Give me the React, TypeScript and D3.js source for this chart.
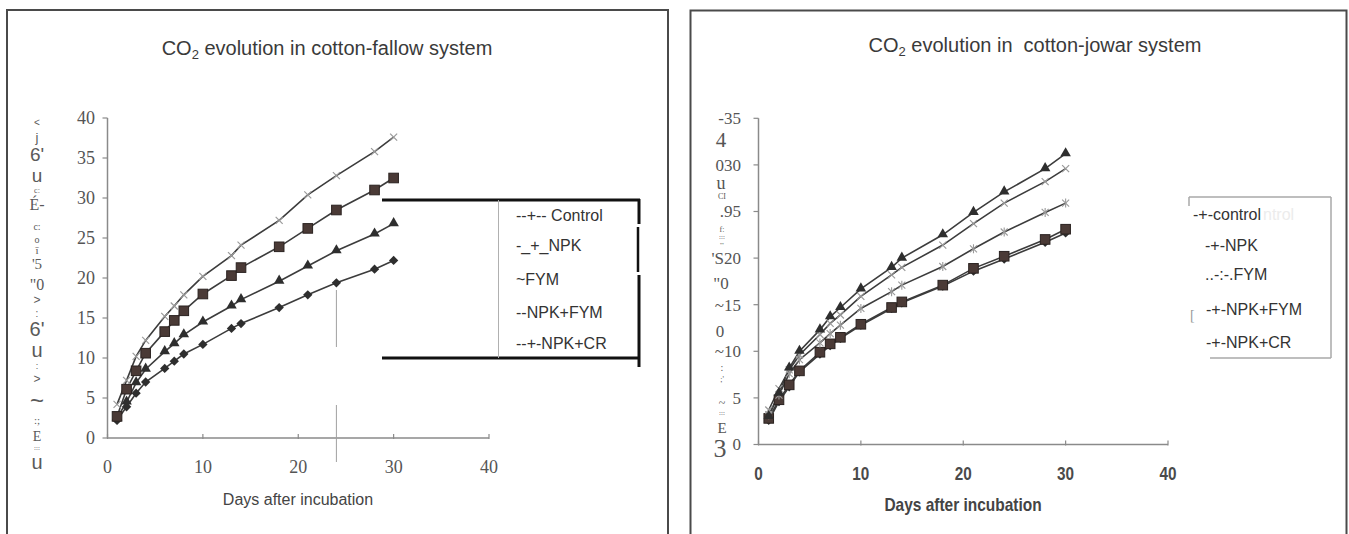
import React from "react";
import * as d3 from "d3";

// ---------- data ----------
const days = [1, 2, 3, 4, 6, 7, 8, 10, 13, 14, 18, 21, 24, 28, 30];

// cotton-fallow system
const fallowCross = [4.2, 7.2, 10.2, 12.2, 15.2, 16.5, 17.9, 20.2, 22.8, 24.1, 27.2, 30.4, 32.8, 35.8, 37.6];
const fallowSquare = [2.7, 6.1, 8.4, 10.6, 13.3, 14.7, 15.9, 18.0, 20.3, 21.3, 23.9, 26.2, 28.5, 31.0, 32.5];
const fallowTriangle = [2.5, 4.5, 6.9, 8.6, 10.8, 11.8, 12.9, 14.5, 16.5, 17.3, 19.6, 21.5, 23.4, 25.5, 26.8];
const fallowDiamond = [2.2, 3.9, 5.6, 7.0, 8.7, 9.6, 10.5, 11.7, 13.7, 14.3, 16.3, 17.9, 19.4, 21.1, 22.2];

// cotton-jowar system
const jowarTriangle = [3.0, 5.5, 8.2, 10.0, 12.3, 13.7, 14.7, 16.7, 19.0, 20.0, 22.5, 24.9, 27.1, 29.6, 31.2];
const jowarCross = [3.7, 6.0, 8.0, 9.6, 11.8, 13.0, 13.9, 15.9, 18.2, 19.0, 21.4, 23.7, 25.9, 28.2, 29.6];
const jowarStar = [3.2, 5.3, 7.6, 9.1, 10.9, 11.9, 12.8, 14.6, 16.4, 17.1, 19.1, 21.0, 22.8, 24.9, 25.9];
const jowarSquare = [2.8, 4.8, 6.4, 7.9, 9.9, 10.8, 11.5, 12.9, 14.7, 15.3, 17.1, 18.9, 20.2, 22.0, 23.1];
const jowarDiamond = [2.6, 4.6, 6.2, 7.8, 9.7, 10.6, 11.4, 12.8, 14.6, 15.2, 17.0, 18.6, 19.9, 21.7, 22.7];

// ticks & labels
const xTicks = [0, 10, 20, 30, 40];
const leftYTicks = [0, 5, 10, 15, 20, 25, 30, 35, 40];
const rightYTicks = [0, 5, 10, 15, 20, 25, 30, 35];
const rightYTickLabels = ["0", "5", "~10", "~15", "'S20", ".95", "030", "-35"];

const leftLegend = ["--+-- Control", "-_+_NPK", "~FYM", "--NPK+FYM", "--+-NPK+CR"];
const rightLegend = ["-+-control", "-+-NPK", "..-:-.FYM", "-+-NPK+FYM", "-+-NPK+CR"];

const leftTitleRest = " evolution in cotton-fallow system";
const rightTitleRest = " evolution in  cotton-jowar system";
const xAxisTitle = "Days after incubation";

// OCR-garbled vertical axis-title fragments
const leftGarble = ["<", "j", "6'", "u", "c:", "É-", "c:", "o", "ī", "'5", "\"0", ">", ":", "6'", "u", ":", ">", "~", ":;", "E", ":::", "u"];
const rightGarble = ["4", "u", "CI", "f:", ":::", "'''", "\"0", "0", ":", ";'", "~", ":::", "E", "3"];

// ---------- layout (not data) ----------
const leftGarbleLayout: [number, number, string][] = [
  [122, 10, "sans"], [137, 13, "sans"], [154, 19, "sans"], [175, 19, "sans"], [190, 8, "serif"],
  [204, 16, "serif"], [226, 10, "serif"], [239, 10, "serif"], [250, 11, "serif"], [264, 15, "serif"],
  [284, 16, "serif"], [300, 12, "sans"], [313, 10, "sans"], [329, 20, "sans"], [350, 20, "sans"],
  [366, 9, "sans"], [379, 12, "sans"], [401, 24, "sans"], [420, 11, "serif"], [436, 14, "serif"],
  [448, 7, "serif"], [462, 20, "sans"],
];
const rightGarbleLayout: [number, number, number][] = [
  [140, 21, 721], [183, 18, 721], [196, 8, 722], [229, 8, 722], [237, 7, 722], [245, 7, 722],
  [283, 17, 721], [331, 17, 720], [367, 10, 722], [379, 8, 722], [403, 12, 722], [413, 7, 722],
  [428, 15, 722], [448, 26, 720],
];

const SANS = "'Liberation Sans', Arial, 'DejaVu Sans', sans-serif";
const SERIF = "'Liberation Serif', 'Times New Roman', 'DejaVu Serif', serif";

type Mk = "square" | "triangle" | "diamond" | "cross" | "star";

function Marker({ kind, cx, cy }: { kind: Mk; cx: number; cy: number }) {
  if (kind === "square") {
    return <rect x={cx - 4.8} y={cy - 4.8} width={9.6} height={9.6} fill="#4a3a36" stroke="#2a2220" strokeWidth={1} />;
  }
  if (kind === "triangle") {
    const p = d3.symbol(d3.symbolTriangle, 48)()!;
    return <path d={p} transform={`translate(${cx},${cy - 0.5})`} fill="#2e2e2e" />;
  }
  if (kind === "diamond") {
    return <rect x={cx - 3.3} y={cy - 3.3} width={6.6} height={6.6} fill="#2e2e2e" transform={`rotate(45 ${cx} ${cy})`} />;
  }
  if (kind === "cross") {
    return (
      <g stroke="#9a9a9a" strokeWidth={1.2}>
        <line x1={cx - 3.5} y1={cy - 3.5} x2={cx + 3.5} y2={cy + 3.5} />
        <line x1={cx - 3.5} y1={cy + 3.5} x2={cx + 3.5} y2={cy - 3.5} />
      </g>
    );
  }
  return (
    <g stroke="#9a9a9a" strokeWidth={1.1}>
      <line x1={cx - 3.5} y1={cy - 3.5} x2={cx + 3.5} y2={cy + 3.5} />
      <line x1={cx - 3.5} y1={cy + 3.5} x2={cx + 3.5} y2={cy - 3.5} />
      <line x1={cx} y1={cy - 4.5} x2={cx} y2={cy + 4.5} />
    </g>
  );
}

function SeriesLines({ series, x, y }: { series: { values: number[]; marker: Mk }[]; x: d3.ScaleLinear<number, number>; y: d3.ScaleLinear<number, number> }) {
  const line = d3
    .line<number>()
    .x((_, i) => x(days[i]))
    .y((v) => y(v));
  return (
    <g>
      {series.map((s, si) => (
        <path key={"l" + si} d={line(s.values)!} fill="none" stroke="#3c3c3c" strokeWidth={1.6} />
      ))}
      {series.map((s, si) => (
        <g key={"m" + si}>
          {s.values.map((v, i) => (
            <Marker key={i} kind={s.marker} cx={x(days[i])} cy={y(v)} />
          ))}
        </g>
      ))}
    </g>
  );
}

export default function App() {
  // left chart scales
  const xL = d3.scaleLinear().domain([0, 40]).range([107.5, 489]);
  const yL = d3.scaleLinear().domain([0, 40]).range([438, 118]);
  // right chart scales
  const xR = d3.scaleLinear().domain([0, 40]).range([758.5, 1168]);
  const yR = d3.scaleLinear().domain([0, 35]).range([444.5, 118.3]);

  const axisColor = "#8a8a8a";

  const leftSeries: { values: number[]; marker: Mk }[] = [
    { values: fallowDiamond, marker: "diamond" },
    { values: fallowTriangle, marker: "triangle" },
    { values: fallowSquare, marker: "square" },
    { values: fallowCross, marker: "cross" },
  ];
  const rightSeries: { values: number[]; marker: Mk }[] = [
    { values: jowarDiamond, marker: "diamond" },
    { values: jowarSquare, marker: "square" },
    { values: jowarStar, marker: "star" },
    { values: jowarCross, marker: "cross" },
    { values: jowarTriangle, marker: "triangle" },
  ];

  const leftLegendY = [215, 245, 279, 312, 343];
  const rightLegendY = [214, 245, 274, 309, 342];
  const rightLegendX = [1193, 1205, 1205, 1206, 1206];

  return (
    <svg width={1349} height={534} style={{ position: "absolute", left: 0, top: 0, background: "#fff" }}>
      <rect x={0} y={0} width={1349} height={534} fill="#fff" />
      {/* panel borders */}
      <rect x={7} y={10} width={661} height={540} fill="none" stroke="#4a4a4a" strokeWidth={2} />
      <rect x={690.5} y={10.5} width={656} height={540} fill="none" stroke="#4a4a4a" strokeWidth={2} />

      {/* ---------- LEFT CHART ---------- */}
      <text x={327} y={55} textAnchor="middle" fontFamily={SANS} fontSize={20} fill="#3a3a3a">
        <tspan>CO</tspan>
        <tspan dy={4} fontSize={13}>2</tspan>
        <tspan dy={-4}>{leftTitleRest}</tspan>
      </text>

      {/* axes */}
      <line x1={xL(0)} y1={yL(0)} x2={xL(40)} y2={yL(0)} stroke={axisColor} strokeWidth={1.5} />
      <line x1={xL(0)} y1={yL(0)} x2={xL(0)} y2={yL(40)} stroke={axisColor} strokeWidth={1.5} />
      {leftYTicks.map((t) => (
        <g key={"ly" + t}>
          <line x1={xL(0) - 5} y1={yL(t)} x2={xL(0)} y2={yL(t)} stroke={axisColor} strokeWidth={1.2} />
          <text x={95} y={yL(t)} dy="0.35em" textAnchor="end" fontFamily={SERIF} fontSize={18} fill="#555">
            {t}
          </text>
        </g>
      ))}
      {xTicks.map((t) => (
        <g key={"lx" + t}>
          <line x1={xL(t)} y1={yL(0) - 4} x2={xL(t)} y2={yL(0) + 1} stroke={axisColor} strokeWidth={1.2} />
          <text x={xL(t)} y={467} dy="0.35em" textAnchor="middle" fontFamily={SERIF} fontSize={18} fill="#555">
            {t}
          </text>
        </g>
      ))}
      <text x={298} y={499} dy="0.35em" textAnchor="middle" fontFamily={SANS} fontSize={16} fill="#444">
        {xAxisTitle}
      </text>

      {/* garbled y title */}
      {leftGarble.map((g, i) => (
        <text
          key={"lg" + i}
          x={37}
          y={leftGarbleLayout[i][0]}
          dy="0.35em"
          textAnchor="middle"
          fontFamily={leftGarbleLayout[i][2] === "sans" ? SANS : SERIF}
          fontSize={leftGarbleLayout[i][1]}
          fill="#5a5a5a"
        >
          {g}
        </text>
      ))}

      {/* gray vertical artifact at day 24 */}
      <line x1={xL(24)} y1={290} x2={xL(24)} y2={347} stroke="#a0a0a0" strokeWidth={1} />
      <line x1={xL(24)} y1={405} x2={xL(24)} y2={462} stroke="#a0a0a0" strokeWidth={1} />

      <SeriesLines series={leftSeries} x={xL} y={yL} />

      {/* left legend */}
      <rect x={499} y={201} width={139} height={156} fill="#fff" />
      <line x1={382} y1={200} x2={640} y2={200} stroke="#111" strokeWidth={3} />
      <line x1={382} y1={358} x2={640} y2={358} stroke="#111" strokeWidth={3} />
      <line x1={639} y1={199} x2={639} y2={224} stroke="#111" strokeWidth={3} />
      <line x1={638} y1={227} x2={638} y2={272} stroke="#111" strokeWidth={2.5} />
      <line x1={639} y1={275} x2={639} y2={367} stroke="#111" strokeWidth={3} />
      <line x1={498.5} y1={200} x2={498.5} y2={358} stroke="#b0b0b0" strokeWidth={1} />
      {leftLegend.map((t, i) => (
        <text key={"ll" + i} x={516} y={leftLegendY[i]} dy="0.35em" fontFamily={SANS} fontSize={16} fill="#333">
          {t}
        </text>
      ))}

      {/* ---------- RIGHT CHART ---------- */}
      <text x={1035} y={52} textAnchor="middle" fontFamily={SANS} fontSize={20} fill="#3a3a3a" style={{ whiteSpace: "pre" }}>
        <tspan>CO</tspan>
        <tspan dy={4} fontSize={13}>2</tspan>
        <tspan dy={-4}>{rightTitleRest}</tspan>
      </text>

      <line x1={xR(0)} y1={yR(0)} x2={xR(40)} y2={yR(0)} stroke={axisColor} strokeWidth={1.5} />
      <line x1={xR(0)} y1={yR(0)} x2={xR(0)} y2={yR(35)} stroke={axisColor} strokeWidth={1.5} />
      {rightYTicks.map((t, i) => (
        <g key={"ry" + t}>
          <line x1={xR(0) - 5} y1={yR(t)} x2={xR(0)} y2={yR(t)} stroke={axisColor} strokeWidth={1.2} />
          <text x={741} y={yR(t)} dy="0.35em" textAnchor="end" fontFamily={SERIF} fontSize={17} fill="#555">
            {rightYTickLabels[i]}
          </text>
        </g>
      ))}
      {xTicks.map((t) => (
        <g key={"rx" + t}>
          <line x1={xR(t)} y1={yR(0) - 4} x2={xR(t)} y2={yR(0) + 1} stroke={axisColor} strokeWidth={1.2} />
          <text
            transform={`translate(${xR(t)},474) scale(0.85,1)`}
            dy="0.35em"
            textAnchor="middle"
            fontFamily={SANS}
            fontWeight="bold"
            fontSize={18}
            fill="#4a4a4a"
          >
            {t}
          </text>
        </g>
      ))}
      <text
        transform={`translate(963,505) scale(0.86,1)`}
        dy="0.35em"
        textAnchor="middle"
        fontFamily={SANS}
        fontWeight="bold"
        fontSize={18}
        fill="#444"
      >
        {xAxisTitle}
      </text>

      {rightGarble.map((g, i) => (
        <text
          key={"rg" + i}
          x={rightGarbleLayout[i][2]}
          y={rightGarbleLayout[i][0]}
          dy="0.35em"
          textAnchor="middle"
          fontFamily={SERIF}
          fontSize={rightGarbleLayout[i][1]}
          fill="#555"
        >
          {g}
        </text>
      ))}

      <SeriesLines series={rightSeries} x={xR} y={yR} />

      {/* right legend */}
      <rect x={1189} y={197} width={142} height={161} fill="#fff" />
      <line x1={1189} y1={197} x2={1331} y2={197} stroke="#a8a8a8" strokeWidth={1.5} />
      <line x1={1331} y1={197} x2={1331} y2={358} stroke="#a8a8a8" strokeWidth={1.5} />
      <line x1={1210} y1={358} x2={1331} y2={358} stroke="#a8a8a8" strokeWidth={1.5} />
      <line x1={1189} y1={197} x2={1189} y2={206} stroke="#a8a8a8" strokeWidth={1.5} />
      <text x={1190} y={315} dy="0.35em" fontFamily={SERIF} fontSize={14} fill="#999">[</text>
      <text x={1263} y={214} dy="0.35em" fontFamily={SANS} fontSize={16} fill="#ececec">ntrol</text>
      {rightLegend.map((t, i) => (
        <text key={"rl" + i} x={rightLegendX[i]} y={rightLegendY[i]} dy="0.35em" fontFamily={SANS} fontSize={16} fill="#333">
          {t}
        </text>
      ))}
    </svg>
  );
}
